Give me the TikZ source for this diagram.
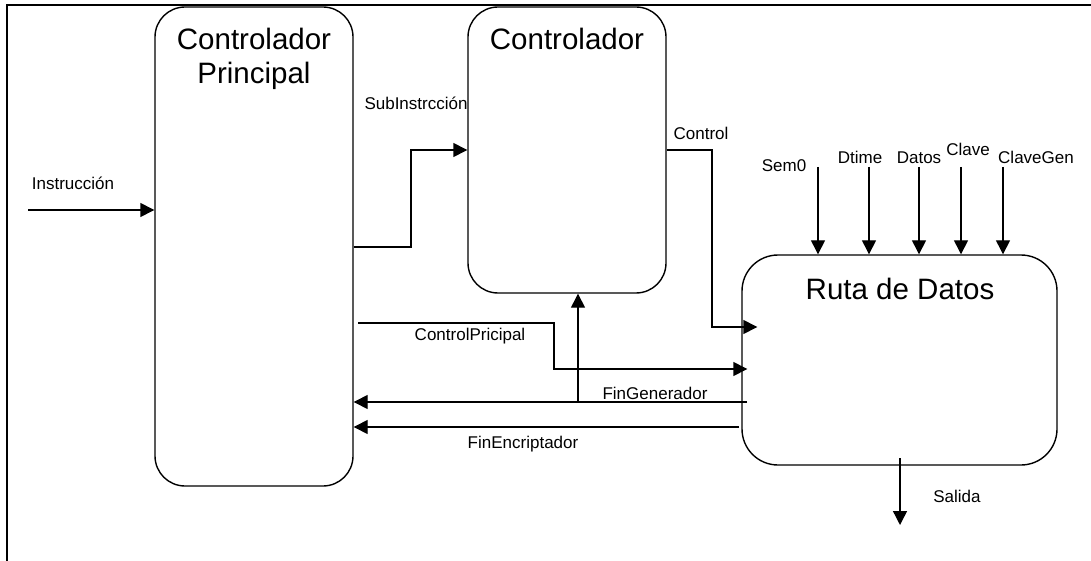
\documentclass[tikz,border=0pt]{standalone}
\usepackage{fontspec}
\setmainfont{Liberation Sans}
\usetikzlibrary{arrows.meta}
\begin{document}
\begin{tikzpicture}[x=1pt,y=-1pt,
  block/.style={draw,line width=1.4pt,rounded corners=30pt,inner sep=0pt},
  big/.style={font=\fontsize{29.5}{35}\selectfont,anchor=base,inner sep=0pt},
  sig/.style={font=\fontsize{17}{20}\selectfont,anchor=base,inner sep=0pt},
  wire/.style={line width=1.4pt},
  arr/.style={line width=1.4pt,-{Triangle[length=14pt,width=14pt]}}]
\useasboundingbox (0,0) rectangle (1091,561);
% outer frame: top and left edges
\draw[line width=2.4pt] (1091,5) -- (7,5) -- (7,561);

% blocks
\node[block,minimum width=198pt,minimum height=479pt] (cp) at (254,246.5) {};
\node[block,minimum width=198pt,minimum height=286pt] (ct) at (567,150) {};
\node[block,minimum width=315pt,minimum height=210pt,rounded corners=36pt] (rd) at (899.5,360) {};

% block titles
\node[big] (cpt1) at (254,50) {Controlador};
\node[big] (cpt2) at (254,84) {Principal};
\node[big] (ctt) at (567,50) {Controlador};
\node[big] (rdt) at (900,299) {Ruta de Datos};

% signal labels
\node[sig] (lins) at (73,190) {Instrucción};
\node[sig] (lsub) at (416,110) {SubInstrcción};
\node[sig] (lctl) at (701,140) {Control};
\node[sig] (lsem) at (784,172) {Sem0};
\node[sig] (ldti) at (860,164) {Dtime};
\node[sig] (ldat) at (919,164) {Datos};
\node[sig] (lcla) at (968,156) {Clave};
\node[sig] (lcgn) at (1036,164) {ClaveGen};
\node[sig] (lcpr) at (470,340) {ControlPricipal};
\node[sig] (lfgn) at (655,399) {FinGenerador};
\node[sig] (lfen) at (523,448) {FinEncriptador};
\node[sig] (lsal) at (957,502) {Salida};

% free ends of the signals
\coordinate (insIn) at (28,210);
\coordinate (cprS) at (358,323);
\coordinate (fgnS) at (747,402);
\coordinate (fenS) at (739,427);
\coordinate (salS) at (900,458);
\coordinate (salE) at (900,525);
\coordinate (tap) at (578,402);

% Instruccion -> Controlador Principal
\draw[arr] (insIn) -- (cp.west |- insIn);
% SubInstrccion
\draw[arr] (cp.east |- 0,247) -- (411,247) -- (411,150) -- (ct.west |- 0,150);
% Control
\draw[arr] (ct.east |- 0,150) -- (712,150) -- (712,327) -- ([xshift=16pt]rd.west |- 0,327);
% ControlPricipal
\draw[arr] (cprS) -- (554,323) -- (554,369) -- ([xshift=6pt]rd.west |- 0,369);
% FinGenerador, with branch up to Controlador
\draw[arr] (fgnS) -- (cp.east |- fgnS);
\draw[arr] (tap) -- (tap |- ct.south);
% FinEncriptador
\draw[arr] (fenS) -- (cp.east |- fenS);
% data inputs of Ruta de Datos
\foreach \n/\x in {sem/818,dti/869,dat/919,cla/961,cgn/1003}{
  \coordinate (\n S) at (\x,167);
  \draw[arr] (\n S) -- (\n S |- rd.north);
}
% Salida
\draw[arr] (salS) -- (salE);
\end{tikzpicture}
\end{document}
